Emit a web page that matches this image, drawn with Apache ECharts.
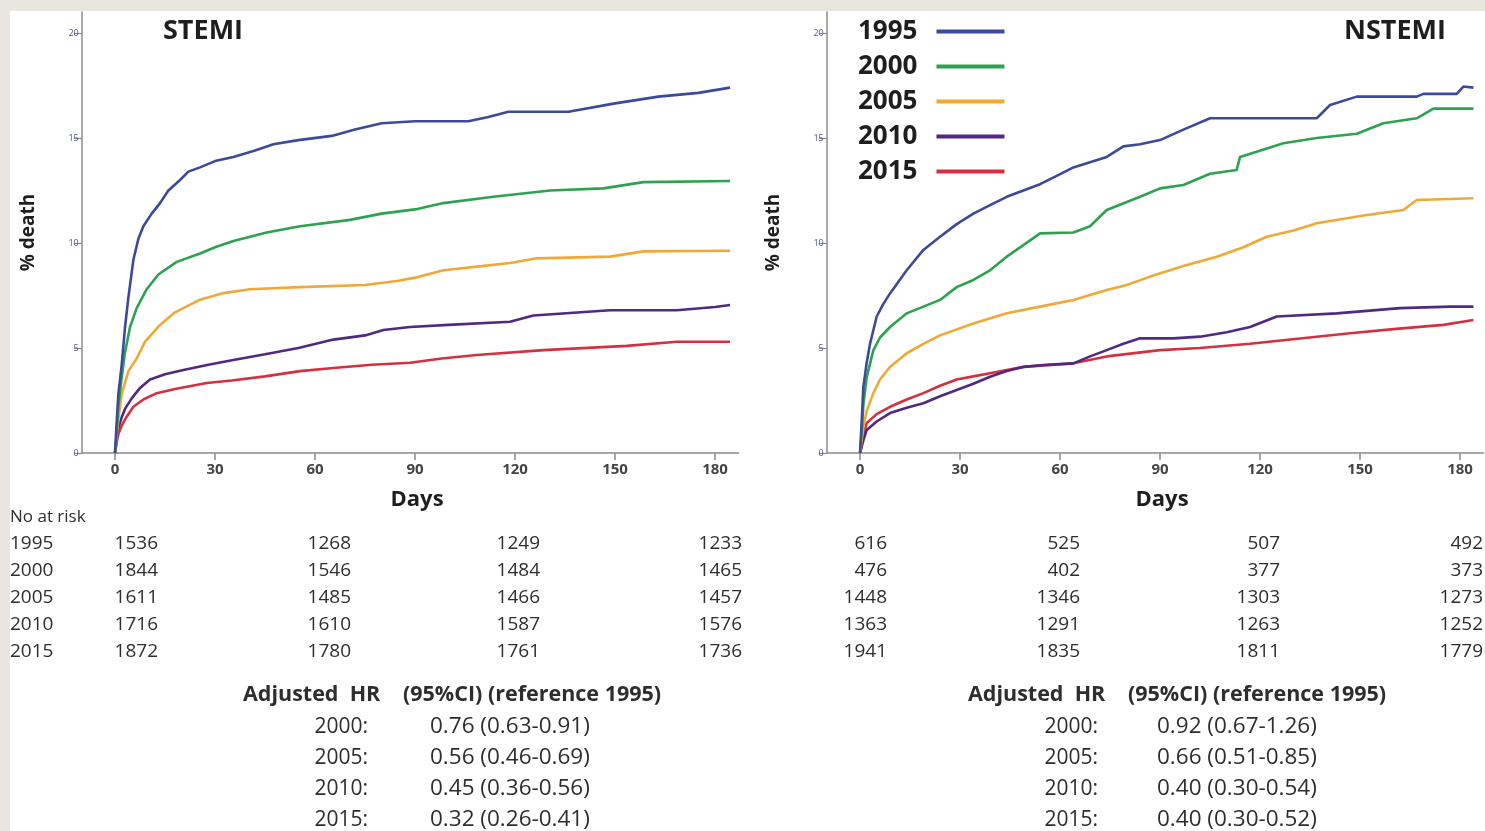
<!DOCTYPE html>
<html>
<head>
<meta charset="utf-8">
<script src="https://cdn.jsdelivr.net/npm/echarts@6/dist/echarts.min.js"></script>
<style>
  html, body { margin: 0; padding: 0; background: #e8e6df; }
  #chart { width: 1485px; height: 831px; }
</style>
</head>
<body>
<div id="chart"></div>
<script>
// Cohort years and their line colours
const years = ['1995', '2000', '2005', '2010', '2015'];
const colors = ['#3b4a9a', '#2da24f', '#f0a935', '#4f2a80', '#d5303f'];

// Axis ticks
const dayTicks = [0, 30, 60, 90, 120, 150, 180];
const pctTicks = [0, 5, 10, 15, 20];

// STEMI cumulative mortality, [day, % death]
const stemi1995 = [[0,0],[0.5,1.5],[1,2.8],[2,4.2],[3,6.0],[4,7.4],[5.5,9.2],[7,10.2],[8.5,10.8],[11,11.4],[13.5,11.9],[16,12.5],[19.5,13.0],[22,13.4],[25.5,13.6],[30,13.9],[35.5,14.1],[42,14.4],[47.5,14.7],[55,14.9],[65,15.1],[72,15.4],[80,15.7],[90,15.8],[106,15.8],[112,16.0],[118,16.25],[136,16.25],[150,16.65],[163,16.97],[175,17.15],[184.5,17.4]];
const stemi2000 = [[0,0],[0.5,1.0],[1,2.2],[2,3.6],[3,4.8],[4.5,6.0],[6.5,6.9],[9.5,7.8],[13,8.5],[18.5,9.1],[25.5,9.5],[30,9.8],[35.5,10.1],[45.5,10.5],[55.5,10.8],[70.5,11.1],[80,11.4],[90,11.6],[98.5,11.9],[113.5,12.2],[130.5,12.5],[146.5,12.6],[158.5,12.9],[184.5,12.95]];
const stemi2005 = [[0,0],[0.5,0.8],[1,1.6],[2,2.8],[4,3.9],[6.5,4.5],[9,5.3],[13.5,6.1],[18,6.7],[25.5,7.3],[32,7.6],[40.5,7.8],[55.5,7.9],[75,8.0],[85,8.2],[90,8.35],[98.5,8.7],[110,8.9],[118.5,9.05],[126.5,9.27],[148.5,9.35],[158.5,9.6],[184.5,9.63]];
const stemi2010 = [[0,0],[0.5,0.7],[1,1.2],[2,1.7],[3,2.1],[5,2.6],[7.5,3.1],[10.5,3.5],[15,3.75],[20.5,3.95],[28,4.2],[35.5,4.43],[45,4.7],[55,5.0],[65.5,5.4],[75,5.6],[80.5,5.86],[88.5,6.0],[100,6.1],[118.5,6.25],[125.5,6.55],[148.5,6.8],[168.5,6.8],[180,6.95],[184.5,7.05]];
const stemi2015 = [[0,0],[0.5,0.5],[1,0.9],[2,1.3],[3.5,1.73],[5.5,2.2],[8.5,2.55],[12.5,2.85],[18,3.05],[27.5,3.33],[35,3.45],[45,3.65],[55.5,3.9],[65.5,4.05],[77,4.2],[88.5,4.3],[98,4.5],[108.5,4.67],[128.5,4.9],[153.5,5.1],[168.5,5.3],[184.5,5.3]];

// NSTEMI cumulative mortality, [day, % death]
const nstemi1995 = [[0,0],[0.5,1.5],[1,3.15],[2,4.3],[3,5.2],[5,6.5],[7,7.1],[9,7.6],[14,8.7],[19,9.67],[24,10.3],[29,10.9],[34,11.4],[39,11.8],[44,12.2],[49,12.5],[54,12.8],[59,13.2],[64,13.6],[69,13.85],[74,14.1],[79,14.6],[84,14.7],[90,14.9],[97,15.4],[105,15.94],[137,15.94],[141,16.57],[149,16.97],[167,16.97],[169,17.1],[179,17.1],[181,17.45],[184,17.4]];
const nstemi2000 = [[0,0],[0.6,1.25],[1,2.3],[2,3.6],[4,4.9],[6,5.5],[9,6.0],[14,6.65],[19,6.97],[24,7.29],[29,7.9],[34,8.24],[39,8.7],[44,9.35],[49,9.9],[54,10.46],[64,10.5],[69,10.8],[74,11.57],[84,12.2],[90,12.6],[97,12.76],[105,13.3],[113,13.48],[114,14.1],[127,14.75],[137,15.0],[149,15.2],[157,15.7],[167,15.94],[172,16.4],[184,16.4]];
const nstemi2005 = [[0,0],[1,1.25],[2,2.0],[4,2.85],[6,3.5],[9,4.1],[14,4.75],[19,5.2],[24,5.6],[34,6.17],[44,6.65],[54,6.97],[64,7.29],[74,7.76],[80,8.0],[87,8.4],[97,8.9],[107,9.35],[115,9.8],[122,10.3],[130,10.6],[137,10.94],[152,11.33],[163,11.57],[167,12.05],[184,12.13]];
const nstemi2010 = [[0,0],[1,0.6],[2,1.1],[5,1.5],[9,1.9],[14,2.15],[19,2.37],[24,2.7],[29,3.0],[34,3.3],[39,3.63],[44,3.9],[49,4.1],[56,4.2],[64,4.27],[69,4.6],[74,4.9],[79,5.2],[84,5.46],[94,5.46],[102,5.54],[110,5.75],[117,6.0],[125,6.5],[143,6.65],[162,6.9],[177,6.97],[184,6.97]];
const nstemi2015 = [[0,0],[1,0.8],[2,1.43],[5,1.85],[9,2.2],[14,2.55],[19,2.85],[24,3.2],[29,3.5],[34,3.65],[39,3.8],[49,4.1],[64,4.27],[74,4.6],[90,4.9],[102,5.0],[117,5.2],[132,5.45],[147,5.7],[160,5.9],[175,6.1],[184,6.33]];

// Numbers at risk (columns: day 0, 60, 120, 180)
const atRiskStemi = [[1536,1268,1249,1233],[1844,1546,1484,1465],[1611,1485,1466,1457],[1716,1610,1587,1576],[1872,1780,1761,1736]];
const atRiskNstemi = [[616,525,507,492],[476,402,377,373],[1448,1346,1303,1273],[1363,1291,1263,1252],[1941,1835,1811,1779]];

// Adjusted hazard ratios vs 1995
const hrYears = ['2000', '2005', '2010', '2015'];
const hrStemi = ['0.76 (0.63-0.91)', '0.56 (0.46-0.69)', '0.45 (0.36-0.56)', '0.32 (0.26-0.41)'];
const hrNstemi = ['0.92 (0.67-1.26)', '0.66 (0.51-0.85)', '0.40 (0.30-0.54)', '0.40 (0.30-0.52)'];

const stemiSeries = [stemi1995, stemi2000, stemi2005, stemi2010, stemi2015];
const nstemiSeries = [nstemi1995, nstemi2000, nstemi2005, nstemi2010, nstemi2015];

const FONT = '"Open Sans", "Liberation Sans", sans-serif';
const TEXT = '#2e2e2e';
const AXIS = '#8c8c8c';

function xAxisCfg(gridIndex) {
  return {
    gridIndex, type: 'value', min: -10, max: 187,
    axisLine: { onZero: false, lineStyle: { color: AXIS, width: 1.5 } },
    axisTick: { customValues: dayTicks, length: 7, lineStyle: { color: AXIS, width: 1.5 } },
    axisLabel: { customValues: dayTicks, color: '#444', fontFamily: FONT, fontWeight: 'bold', fontSize: 15, margin: 9 },
    splitLine: { show: false },
    name: 'Days', nameLocation: 'middle', nameGap: 36,
    nameTextStyle: { color: '#1e1e1e', fontFamily: FONT, fontWeight: 'bold', fontSize: 22, padding: [0, 0, 0, 14] }
  };
}
function yAxisCfg(gridIndex) {
  return {
    gridIndex, type: 'value', min: 0, max: 21,
    axisLine: { show: true, onZero: false, lineStyle: { color: AXIS, width: 1.5 } },
    axisTick: { show: true, customValues: pctTicks, length: 8, lineStyle: { color: AXIS, width: 1.2 } },
    axisLabel: { customValues: pctTicks, color: '#4a5790', fontFamily: FONT, fontSize: 9, margin: 3 },
    splitLine: { show: false },
    name: '% death', nameLocation: 'middle', nameGap: 44, nameRotate: 90,
    nameTextStyle: { color: '#1e1e1e', fontFamily: FONT, fontWeight: 'bold', fontSize: 19 }
  };
}

const series = [];
[stemiSeries, nstemiSeries].forEach((group, gi) => {
  group.forEach((data, i) => {
    series.push({
      name: years[i], type: 'line', xAxisIndex: gi, yAxisIndex: gi,
      data, showSymbol: false, symbol: 'none',
      color: colors[i],
      lineStyle: { width: 2.6, color: colors[i] },
      z: 3 + (4 - i)
    });
  });
});

// Text blocks: titles, numbers at risk, hazard ratios
const graphic = [
  { type: 'rect', shape: { x: 10, y: 11, width: 1475, height: 820 }, style: { fill: '#ffffff' }, z: -10, silent: true }
];
function text(x, y, str, o) {
  graphic.push({
    type: 'text', x, y, silent: true, z: 10,
    style: Object.assign({
      text: str, fill: TEXT, fontFamily: FONT, fontSize: 20, fontWeight: 'normal',
      align: 'left', verticalAlign: 'middle'
    }, o || {})
  });
}
text(163, 31, 'STEMI', { fontSize: 27, fontWeight: 'bold', fill: '#1e1e1e' });
text(1446, 31, 'NSTEMI', { fontSize: 27, fontWeight: 'bold', fill: '#1e1e1e', align: 'right' });

text(10, 517, 'No at risk', { fontSize: 17 });
const leftCols = [158, 351, 540, 742];
const rightCols = [887, 1080, 1280, 1483];
years.forEach((yr, r) => {
  const y = 544 + r * 27;
  text(10, y, yr, { fontSize: 19 });
  atRiskStemi[r].forEach((v, c) => text(leftCols[c], y, String(v), { fontSize: 19, align: 'right' }));
  atRiskNstemi[r].forEach((v, c) => text(rightCols[c], y, String(v), { fontSize: 19, align: 'right' }));
});

function hrBlock(x0, yearRight, valLeft, values) {
  text(x0, 695, 'Adjusted  HR', { fontWeight: 'bold', fontSize: 21.5 });
  text(x0 + 160, 695, '(95%CI) (reference 1995)', { fontWeight: 'bold', fontSize: 21.5 });
  hrYears.forEach((yr, i) => {
    const y = 727 + i * 31;
    text(yearRight, y, yr + ':', { align: 'right', fontSize: 21 });
    text(valLeft, y, values[i], { fontSize: 22.5 });
  });
}
hrBlock(243, 368, 430, hrStemi);
hrBlock(968, 1098, 1157, hrNstemi);

const option = {
  animation: false,
  backgroundColor: '#e8e6df',
  grid: [
    { left: 81.7, top: 12, width: 656.7, height: 441 },
    { left: 826.7, top: 12, width: 656.7, height: 441 }
  ],
  xAxis: [xAxisCfg(0), xAxisCfg(1)],
  yAxis: [yAxisCfg(0), yAxisCfg(1)],
  legend: {
    data: years, orient: 'vertical', left: 853, top: 11,
    align: 'right', icon: 'rect', itemWidth: 68, itemHeight: 4, itemGap: 4,
    selectedMode: false,
    textStyle: { color: '#1e1e1e', fontFamily: FONT, fontSize: 26, fontWeight: 'bold', lineHeight: 31, padding: [0, 14, 0, 0] }
  },
  graphic,
  series
};

const chart = echarts.init(document.getElementById('chart'), null, { renderer: 'canvas' });
chart.setOption(option);
</script>
</body>
</html>
